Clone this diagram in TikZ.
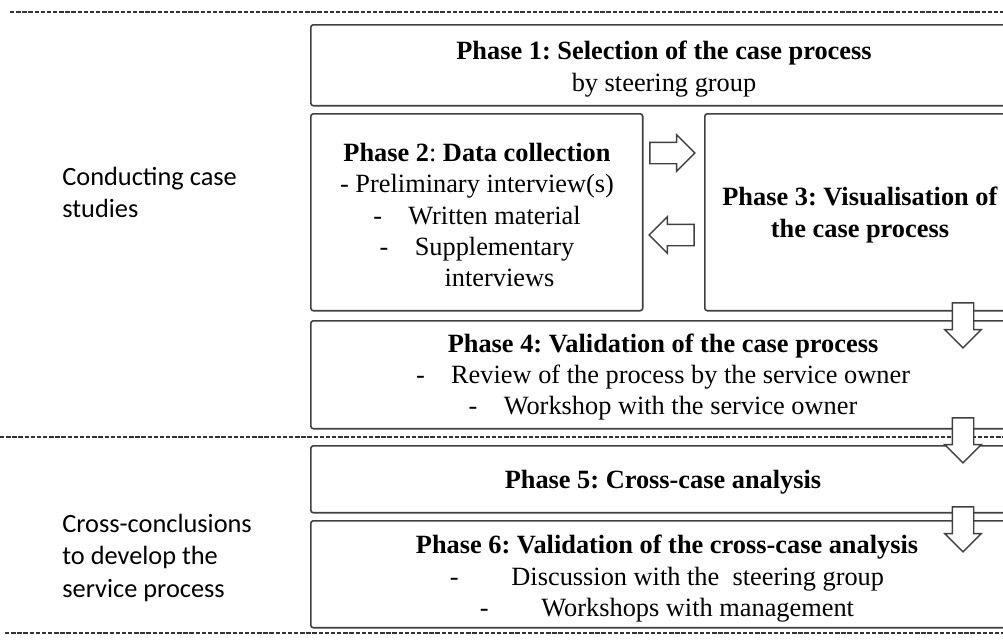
\documentclass[tikz,border=0pt]{standalone}
\usepackage{fontspec}
\setmainfont{Liberation Serif}
\newfontfamily\labelfont{Carlito}
\usetikzlibrary{shapes.arrows}
\tikzstyle{phasebox} = [rectangle, draw=black!75, line width=0.9pt, rounded corners=1.5pt, anchor=north west, inner sep=0pt]
\tikzstyle{phasetext} = [align=center, font=\fontsize{15}{17.9}\selectfont, inner sep=0pt]
\tikzstyle{sidetext} = [align=left, anchor=north west, font=\labelfont\fontsize{15}{18.4}\selectfont, inner sep=0pt]
\tikzstyle{sep} = [dashed, dash pattern=on 2.5pt off 1pt, line width=1pt, black!80]
\tikzstyle{blockarrow} = [single arrow, draw=black!75, fill=white, line width=0.8pt, inner xsep=0pt, inner ysep=0.2cm, minimum height=0.9cm, single arrow head extend=0.15cm]

\begin{document}
\frenchspacing
\begin{tikzpicture}[x=0.02cm, y=-0.02cm]

        \useasboundingbox (0,0) rectangle (1003,639);
        \clip (0,0) rectangle (1003,639);

        %% separators
        \coordinate (s1l) at (10,12);  \coordinate (s1r) at (1003,12);
        \coordinate (s2l) at (0,437);  \coordinate (s2r) at (1003,437);
        \coordinate (s3l) at (5,633);  \coordinate (s3r) at (1003,633);
        \draw[sep] (s1l) -- (s1r);
        \draw[sep] (s2l) -- (s2r);
        \draw[sep] (s3l) -- (s3r);

        %% side labels
        \node (L1) [sidetext] at (62,167) {Conducting case\\studies};
        \node (L2) [sidetext] at (62,514) {Cross-conclusions\\to develop the\\service process};

        %% boxes
        \node (P1) [phasebox, minimum width=14.2cm, minimum height=1.62cm] at (310,24) {};
        \node (P2) [phasebox, minimum width=6.64cm, minimum height=3.94cm] at (310,113) {};
        \node (P3) [phasebox, minimum width=6.4cm, minimum height=3.94cm] at (704,113) {};
        \node (P4) [phasebox, minimum width=14.2cm, minimum height=2.16cm] at (310,320) {};
        \node (P5) [phasebox, minimum width=14.2cm, minimum height=1.34cm] at (310,445) {};
        \node (P6) [phasebox, minimum width=14.2cm, minimum height=2.14cm] at (310,520) {};

        %% texts
        \node (T1) [phasetext] at (664,69) {\textbf{Phase 1: Selection of the case process}\\by steering group};
        \node (T2) [phasetext] at (477,215) {\textbf{Phase 2}: \textbf{Data collection}\\- Preliminary interview(s)\\-\quad Written material\\-\quad Supplementary\\\hspace{1.7em}interviews};
        \node (T3) [phasetext] at (860,215) {\textbf{Phase 3: Visualisation of}\\\textbf{the case process}};
        \node (T4) [phasetext] at (663,377) {\textbf{Phase 4: Validation of the case process}\\-\quad Review of the process by the service owner\\-\quad Workshop with the service owner};
        \node (T5) [phasetext] at (663,482) {\textbf{Phase 5: Cross-case analysis}};
        \node (T6) [phasetext] at (667,579) {\textbf{Phase 6: Validation of the cross-case analysis}\\-\hspace{2em}Discussion with the\ \ steering group\\-\hspace{2em}Workshops with management};

        %% arrows
        \node (A23) [blockarrow] at (667,153) {};
        \node (A32) [blockarrow, rotate=180] at (677,235) {};
        \node (A34) [blockarrow, rotate=-90] at (963,320) {};
        \node (A45) [blockarrow, rotate=-90] at (963,435) {};
        \node (A56) [blockarrow, rotate=-90] at (963,524) {};

    \end{tikzpicture}
\end{document}
